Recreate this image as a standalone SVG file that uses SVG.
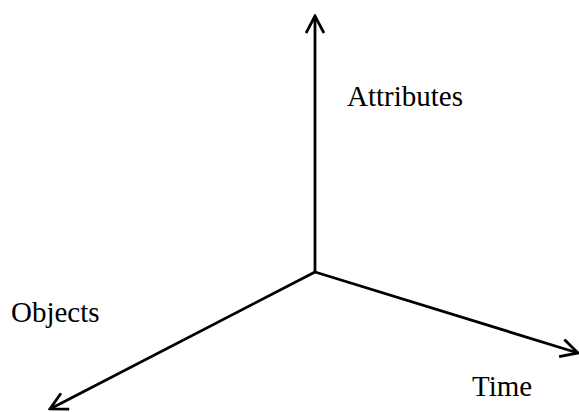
<svg xmlns="http://www.w3.org/2000/svg" width="579" height="412" viewBox="0 0 579 412">
<defs>
<style>
.ax{stroke:#000;stroke-width:2.8;fill:none;stroke-linecap:butt;stroke-linejoin:miter}
.lbl{font-family:"Liberation Serif","Times New Roman",serif;font-size:29px;fill:#000}
</style>
<marker id="arr" viewBox="0 0 20 20" refX="18" refY="10" markerWidth="20" markerHeight="20" markerUnits="userSpaceOnUse" orient="auto">
<path d="M1,1 L18,10 L1,19" fill="none" stroke="#000" stroke-width="2.8"/>
</marker>
</defs>
<g id="connectors">
<line class="ax" x1="315" y1="272" x2="315" y2="16" marker-end="url(#arr)"/>
<line class="ax" x1="315" y1="272" x2="578" y2="353" marker-end="url(#arr)"/>
<line class="ax" x1="315" y1="272" x2="50" y2="409" marker-end="url(#arr)"/>
</g>
<g id="attributes"><text class="lbl" x="347" y="106">Attributes</text></g>
<g id="objects"><text class="lbl" x="11" y="322">Objects</text></g>
<g id="time"><text class="lbl" x="472" y="396">Time</text></g>
</svg>
